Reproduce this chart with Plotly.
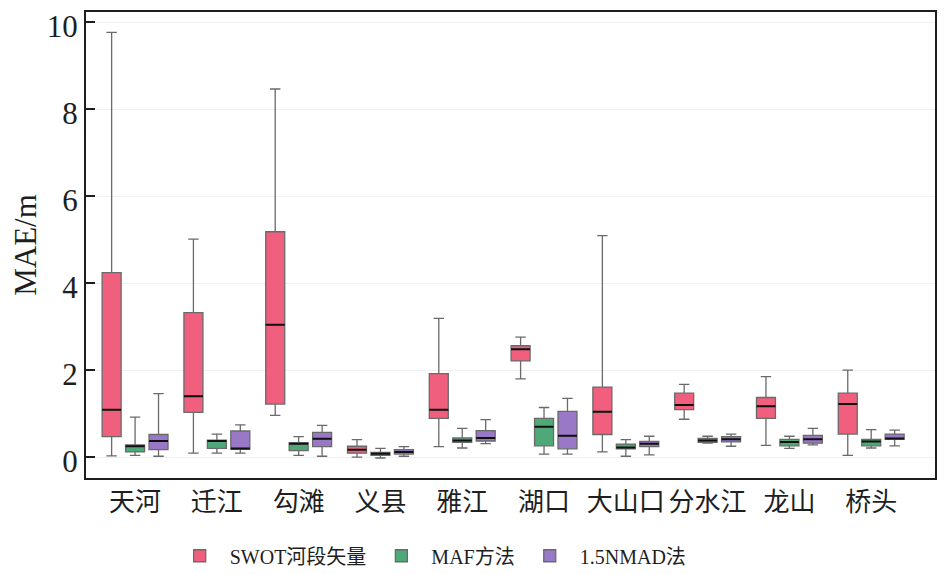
import plotly.graph_objects as go

# === Data ===
sites = ["天河", "迁江", "勾滩", "义县", "雅江", "湖口", "大山口", "分水江", "龙山", "桥头"]

swot_low = [0.03, 0.09, 0.96, 0.00, 0.24, 1.80, 0.12, 0.87, 0.27, 0.04]
swot_q1 = [0.47, 1.03, 1.22, 0.09, 0.89, 2.21, 0.52, 1.09, 0.89, 0.53]
swot_med = [1.09, 1.40, 3.04, 0.17, 1.09, 2.48, 1.04, 1.20, 1.17, 1.22]
swot_q3 = [4.24, 3.32, 5.18, 0.25, 1.92, 2.56, 1.61, 1.47, 1.37, 1.47]
swot_up = [9.76, 5.01, 8.46, 0.40, 3.19, 2.76, 5.09, 1.67, 1.85, 2.00]

maf_low = [0.04, 0.09, 0.04, -0.02, 0.21, 0.07, 0.02, 0.32, 0.20, 0.21]
maf_q1 = [0.12, 0.20, 0.15, 0.04, 0.34, 0.26, 0.19, 0.34, 0.26, 0.26]
maf_med = [0.25, 0.37, 0.31, 0.08, 0.38, 0.70, 0.22, 0.38, 0.35, 0.36]
maf_q3 = [0.28, 0.39, 0.33, 0.11, 0.44, 0.89, 0.30, 0.43, 0.41, 0.41]
maf_up = [0.92, 0.53, 0.47, 0.20, 0.66, 1.14, 0.40, 0.48, 0.48, 0.63]

nmad_low = [0.02, 0.09, 0.02, 0.02, 0.31, 0.07, 0.05, 0.25, 0.28, 0.26]
nmad_q1 = [0.17, 0.18, 0.24, 0.07, 0.37, 0.19, 0.24, 0.35, 0.32, 0.41]
nmad_med = [0.37, 0.20, 0.42, 0.12, 0.44, 0.49, 0.31, 0.41, 0.41, 0.43]
nmad_q3 = [0.52, 0.60, 0.57, 0.17, 0.61, 1.05, 0.36, 0.47, 0.50, 0.53]
nmad_up = [1.46, 0.74, 0.73, 0.24, 0.86, 1.35, 0.48, 0.53, 0.66, 0.62]

series = [
    ("SWOT河段矢量", "#f0607e", swot_low, swot_q1, swot_med, swot_q3, swot_up),
    ("MAF方法", "#4fa878", maf_low, maf_q1, maf_med, maf_q3, maf_up),
    ("1.5NMAD法", "#9a78c8", nmad_low, nmad_q1, nmad_med, nmad_q3, nmad_up),
]

FONT = "Liberation Serif, Noto Sans CJK SC, serif"
INK = "#1e1e1e"

fig = go.Figure()

for i, (name, color, lo, q1, med, q3, up) in enumerate(series):
    # main box (grey outline, grey whiskers)
    fig.add_trace(go.Box(
        name=name, x=sites, lowerfence=lo, q1=q1, median=med, q3=q3,
        upperfence=up, offsetgroup=str(i), fillcolor=color,
        line=dict(color="#6a6a6a", width=1.3), whiskerwidth=0.55,
        boxpoints=False, hoverinfo="skip",
    ))
    # black median line on top of the box
    fig.add_trace(go.Box(
        name=name, x=sites, lowerfence=med, q1=med, median=med, q3=med,
        upperfence=med, offsetgroup=str(i), fillcolor="rgba(0,0,0,0)",
        line=dict(color="#111111", width=2), whiskerwidth=0,
        boxpoints=False, showlegend=False, hoverinfo="skip",
    ))

# page body has an 8px margin, so the figure is made 8px smaller each way
fig.update_layout(
    width=942, height=566,
    paper_bgcolor="white", plot_bgcolor="white",
    margin=dict(l=78, r=15, t=4, b=96, autoexpand=False),
    boxmode="group", boxgap=0.14, boxgroupgap=0.19,
    font=dict(family=FONT, color=INK),
    showlegend=True,
    legend=dict(
        orientation="h", x=0.406, xanchor="center", y=-0.125, yanchor="top",
        font=dict(size=20, family=FONT, color=INK), itemwidth=50,
    ),
)

fig.update_xaxes(
    range=[-0.6, 9.78], showgrid=False, ticks="", automargin=False,
    tickfont=dict(size=26, family=FONT, color=INK),
    showline=True, linecolor=INK, linewidth=2, mirror=True,
)

fig.update_yaxes(
    range=[-0.48, 10.23], tickvals=[0, 2, 4, 6, 8, 10], automargin=False,
    ticks="inside", ticklen=9, tickwidth=2, tickcolor=INK,
    ticklabeloverflow="allow", ticklabelshift=4,
    showgrid=True, gridcolor="#f0f0f0", gridwidth=1, zeroline=False,
    tickfont=dict(size=31, family=FONT, color=INK),
    title=dict(text="MAE/m", font=dict(size=31, family=FONT, color=INK), standoff=8),
    showline=True, linecolor=INK, linewidth=2, mirror=True,
)

fig.write_html("out.html")
